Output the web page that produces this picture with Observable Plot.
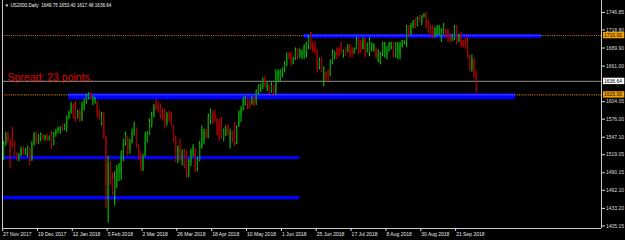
<!DOCTYPE html>
<html><head><meta charset="utf-8">
<script src="https://cdn.jsdelivr.net/npm/d3@7"></script>
<script src="https://cdn.jsdelivr.net/npm/@observablehq/plot@0.6"></script>
<style>
html,body{margin:0;padding:0;background:#000;}
svg{display:block}
</style></head><body>
<div id="chart"></div>
<script>
// Daily OHLC of US2000 (bar index 0 = 27 Nov 2017, last = 4 Oct 2018)
const openP = [1513,1535,1550,1540,1545,1538,1520,1512,1517,1528,1522,1520,1528,1510,1536,1552,1540,1546,1550,1544,
1549,1543,1550,1535,1551,1557,1559,1567,1560,1563,1578,1587,1598,1590,1578,1588,1575,1598,1604,1610,
1617,1605,1606,1603,1585,1568,1580,1548,1450,1505,1480,1460,1478,1494,1490,1515,1538,1548,1528,1538,
1552,1560,1533,1512,1495,1517,1540,1552,1565,1580,1600,1595,1592,1585,1582,1570,1585,1580,1565,1545,
1510,1530,1510,1522,1520,1490,1507,1524,1525,1497,1510,1530,1540,1556,1546,1575,1588,1585,1576,1570,
1565,1542,1550,1565,1540,1555,1568,1540,1565,1580,1590,1600,1610,1605,1600,1610,1600,1618,1625,1628,
1640,1626,1630,1620,1630,1618,1640,1643,1650,1656,1664,1682,1682,1665,1672,1688,1676,1678,1680,1685,
1695,1712,1699,1690,1685,1660,1672,1645,1650,1650,1645,1665,1676,1690,1688,1697,1680,1690,1684,1695,
1690,1682,1688,1705,1700,1688,1706,1684,1682,1690,1690,1690,1670,1668,1680,1683,1675,1688,1692,1699,
1680,1675,1680,1692,1698,1700,1725,1712,1724,1734,1726,1740,1731,1739,1744,1728,1720,1722,1708,1712,
1712,1703,1716,1718,1718,1708,1702,1704,1722,1700,1710,1700,1700,1698,1676,1655,1670,1649.75];
const highP = [1540,1555,1556,1545,1563,1541,1522,1521,1531,1532,1529,1533,1530,1540,1555,1555,1551,1554,1552,1550,
1552,1549,1557,1555,1560,1563,1564,1568,1568,1581,1589,1603,1600,1604,1590,1592,1603,1608,1616,1618,
1619,1612,1611,1605,1590,1587,1587,1549,1517,1508,1490,1492,1502,1505,1525,1544,1555,1549,1544,1560,
1571,1562,1536,1524,1520,1555,1556,1576,1587,1600,1607,1604,1600,1592,1592,1587,1589,1587,1566,1549,
1533,1544,1527,1528,1525,1512,1528,1535,1529,1515,1540,1565,1560,1560,1584,1592,1589,1590,1576,1576,
1579,1560,1565,1568,1560,1557,1571,1565,1589,1596,1611,1612,1611,1607,1612,1611,1623,1631,1632,1642,
1644,1634,1631,1634,1631,1655,1655,1655,1658,1668,1682,1682,1682,1675,1690,1689,1688,1687,1695,1699,
1710,1715,1699,1699,1687,1674,1674,1660,1652,1655,1671,1687,1684,1690,1690,1699,1687,1690,1695,1695,
1690,1690,1707,1706,1702,1706,1706,1698,1706,1698,1697,1690,1687,1683,1699,1699,1692,1699,1699,1699,
1699,1699,1699,1702,1702,1726,1726,1729,1734,1737,1739,1742,1742,1745,1747,1734,1726,1726,1723,1726,
1726,1721,1729,1720,1721,1713,1712,1726,1726,1712,1715,1702,1705,1710,1679,1679,1674,1653.40];
const lowP = [1510,1533,1537,1497,1530,1517,1509,1508,1516,1518,1518,1515,1501,1508,1533,1535,1536,1540,1542,1541,
1540,1541,1528,1533,1547,1553,1552,1557,1558,1555,1575,1584,1576,1571,1576,1571,1572,1589,1600,1607,
1606,1598,1600,1578,1574,1565,1544,1433,1410,1470,1454,1437,1465,1476,1478,1508,1533,1517,1520,1536,
1549,1530,1509,1492,1492,1515,1538,1550,1562,1578,1589,1586,1576,1573,1560,1565,1571,1565,1539,1507,
1505,1508,1501,1497,1481,1482,1500,1515,1490,1492,1508,1528,1535,1544,1545,1568,1568,1570,1549,1541,
1544,1540,1548,1549,1528,1538,1532,1535,1563,1571,1589,1597,1592,1592,1598,1595,1598,1615,1619,1623,
1626,1620,1615,1618,1612,1615,1635,1636,1642,1650,1660,1671,1660,1663,1670,1671,1673,1671,1672,1674,
1687,1687,1682,1680,1650,1655,1651,1628,1636,1636,1644,1663,1671,1671,1676,1682,1674,1676,1682,1674,
1674,1680,1687,1679,1682,1687,1674,1682,1676,1684,1683,1671,1666,1663,1676,1674,1671,1683,1687,1674,
1674,1671,1671,1690,1695,1691,1707,1710,1721,1721,1724,1731,1726,1738,1721,1713,1707,1706,1706,1709,
1710,1699,1712,1707,1699,1697,1700,1702,1695,1698,1690,1690,1688,1674,1652,1651,1642,1617.48];
const closeP = [1535,1550,1540,1520,1535,1520,1512,1518,1528,1522,1526,1530,1510,1536,1552,1540,1548,1550,1545,1548,
1543,1547,1535,1552,1558,1561,1562,1560,1566,1578,1587,1600,1582,1580,1587,1575,1600,1606,1613,1615,
1608,1610,1609,1582,1577,1580,1548,1470,1505,1478,1458,1480,1495,1500,1520,1540,1550,1525,1538,1555,
1568,1533,1512,1505,1517,1540,1552,1570,1580,1596,1592,1590,1580,1576,1570,1583,1578,1568,1542,1510,
1530,1512,1520,1500,1490,1507,1524,1531,1497,1510,1536,1560,1555,1546,1578,1588,1575,1574,1552,1545,
1550,1557,1560,1552,1555,1545,1538,1560,1585,1592,1606,1610,1600,1595,1607,1598,1620,1628,1630,1640,
1630,1632,1618,1630,1616,1650,1652,1652,1656,1664,1678,1676,1664,1672,1686,1678,1685,1684,1692,1697,
1706,1692,1685,1682,1655,1670,1655,1650,1640,1643,1665,1680,1682,1675,1679,1685,1684,1680,1692,1678,
1680,1688,1702,1684,1686,1702,1678,1695,1702,1696,1694,1675,1682,1680,1696,1690,1688,1697,1696,1684,
1697,1694,1696,1700,1701,1722,1712,1726,1731,1724,1736,1733,1740,1744,1724,1716,1710,1709,1720,1722,
1724,1718,1726,1709,1702,1700,1710,1722,1700,1708,1694,1692,1690,1678,1655,1672,1646,1636.64];

// Axis ticks
const xTickBars = [0,16,32,48,64,80,96,112,128,144,160,176,192,208];
const xTickLabels = ["27 Nov 2017","19 Dec 2017","12 Jan 2018","5 Feb 2018","2 Mar 2018","26 Mar 2018","18 Apr 2018","10 May 2018","1 Jun 2018","25 Jun 2018","17 Jul 2018","8 Aug 2018","30 Aug 2018","21 Sep 2018"];
const yTicks = [1746.85,1718.80,1689.90,1661.00,1604.05,1576.00,1547.10,1519.05,1490.15,1462.10,1433.20,1405.15];
const xDomain = [-0.5, 274.5];
const yDomain = [1401, 1766];

// Annotations
const orangeLevels = [1710.00, 1615.00];
const currentPrice = 1636.64;
const zoneFrom = [138, 30, -5, -5];
const zoneTo = [247, 235, 136, 136];
const zoneTop = [1711.6, 1616.6, 1516.2, 1452.2];
const zoneBottom = [1705.2, 1607.0, 1511.4, 1446.9];
const zoneDotted = [true, true, false, false];
const titleText = "US2000.Daily  1649.75 1653.40 1617.48 1636.64";
const spreadText = "Spread: 23 points.";

const bars = openP.map((o, i) => ({i, open: o, high: highP[i], low: lowP[i], close: closeP[i]}));
const isUp = d => d.close >= d.open;
const zones = zoneFrom.map((f, k) => ({from: f, to: zoneTo[k], top: zoneTop[k], bottom: zoneBottom[k], dotted: zoneDotted[k]}));
const dotted = zones.filter(z => z.dotted);
const font = "'Liberation Sans', Arial, sans-serif";
const fmt = d => d.toFixed(2);

const plot = Plot.plot({
  width: 625, height: 240,
  marginLeft: 2, marginRight: 24, marginTop: 0, marginBottom: 12,
  style: {background: "#000", color: "#e8e8e8", fontFamily: font, fontSize: "5px", overflow: "visible"},
  x: {domain: xDomain, axis: null},
  y: {domain: yDomain, axis: null},
  marks: [
    Plot.ruleY(orangeLevels, {stroke: "#c87810", strokeDasharray: "1,1.2", strokeWidth: 1.2}),
    Plot.ruleY([currentPrice], {stroke: "#8f8f8f", strokeWidth: 1}),
    Plot.rect(zones, {x1: "from", x2: "to", y1: "bottom", y2: "top", fill: "#0000ff", clip: true}),
    Plot.ruleY(dotted, {y: "top", x1: "from", x2: "to", dy: 1, stroke: "#6464ff", strokeWidth: 1.5, strokeDasharray: "1,1", clip: true}),
    Plot.ruleX(bars, {x: "i", y1: "low", y2: "high", stroke: d => isUp(d) ? "#00dc00" : "#dc0000", strokeWidth: 1}),
    Plot.ruleX(bars, {x: "i", y1: "open", y2: "close", stroke: d => isUp(d) ? "#0a8a0a" : "#960000", strokeWidth: 1.3}),
    Plot.ruleX(xDomain, {stroke: "#c8c8c8"}),
    Plot.ruleY([yDomain[0]], {stroke: "#c8c8c8"}),
    Plot.axisY(yTicks, {anchor: "right", tickSize: 3, tickPadding: 1.5, tickFormat: fmt, color: "#dcdcdc", fontSize: 5}),
    Plot.axisX(xTickBars, {anchor: "bottom", tickSize: 3, tickFormat: () => "", color: "#dcdcdc", dx: -1}),
    Plot.axisX(xTickBars, {anchor: "bottom", tickSize: 0, tickPadding: 3.5, textAnchor: "start", dx: -0.5, tickFormat: d => xTickLabels[xTickBars.indexOf(d)], color: "#e8e8e8", fontSize: 5}),
    Plot.text([titleText], {frameAnchor: "top-left", dx: 8, dy: 3, lineAnchor: "top", textAnchor: "start", fill: "#f0f0f0", fontSize: 4.6}),
    Plot.text(["\u25BC"], {frameAnchor: "top-left", dx: 2, dy: 3, lineAnchor: "top", textAnchor: "start", fill: "#f0f0f0", fontSize: 4.5}),
    Plot.text([spreadText], {y: [currentPrice], frameAnchor: "left", dx: 5, dy: -0.5, lineAnchor: "bottom", textAnchor: "start", fill: "#e00000", fontSize: 10.5}),
    Plot.text(orangeLevels, {y: d => d, text: fmt, frameAnchor: "right", dx: 2.5, textAnchor: "start", fill: "#000", fontSize: 5}),
    Plot.text([currentPrice], {y: d => d, text: fmt, frameAnchor: "right", dx: 2.5, textAnchor: "start", fill: "#000", fontSize: 5})
  ]
});
document.getElementById("chart").append(plot);

// background boxes behind the price-level labels on the right scale
const boxColor = new Map([...orangeLevels.map(v => [fmt(v), "#f2a200"]), [fmt(currentPrice), "#ffffff"]]);
plot.querySelectorAll("text").forEach(t => {
  const c = boxColor.get(t.textContent);
  if (!c || t.getAttribute("fill") !== "#000" && t.parentNode.getAttribute("fill") !== "#000") return;
  const b = t.getBBox();
  const r = document.createElementNS("http://www.w3.org/2000/svg", "rect");
  if (t.getAttribute("transform")) r.setAttribute("transform", t.getAttribute("transform"));
  r.setAttribute("x", b.x - 1);
  r.setAttribute("y", b.y - 0.2);
  r.setAttribute("width", b.width + 3);
  r.setAttribute("height", b.height + 0.4);
  r.setAttribute("fill", c);
  t.parentNode.insertBefore(r, t);
});
</script>
</body></html>
